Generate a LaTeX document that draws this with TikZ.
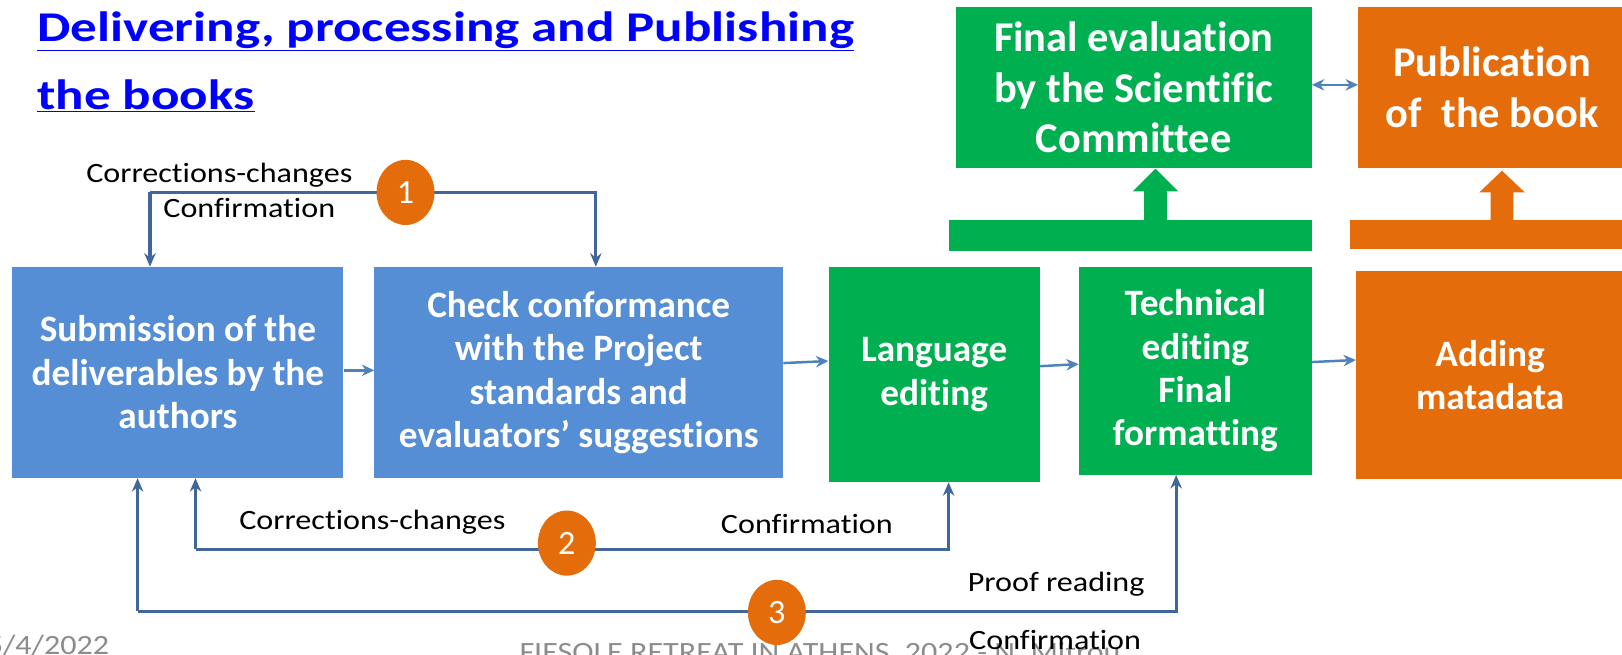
\documentclass[tikz,border=0pt]{standalone}
\usepackage{fontspec}
\setmainfont{Carlito}[Ligatures={NoCommon}]
\newfontfamily\widefont{Carlito}[FakeStretch=1.15, Ligatures={NoCommon}]
\newfontfamily\titlefont{Carlito}[FakeStretch=1.25, Ligatures={NoCommon}]
\usepackage{xcolor}
\usetikzlibrary{arrows.meta,shapes.geometric}
\definecolor{stepblue}{HTML}{558ED5}
\definecolor{stepgreen}{HTML}{00B050}
\definecolor{steporange}{HTML}{E46C0A}
\definecolor{loopline}{HTML}{41679A}
\definecolor{flowline}{HTML}{4F81BD}
\definecolor{titleblue}{HTML}{0000FF}
\definecolor{footgray}{HTML}{8C8C8C}
\tikzset{
  box/.style={inner sep=0pt, align=center, text=white, font=\fontsize{36}{42}\selectfont\bfseries},
  bigbox/.style={font=\fontsize{41}{49}\selectfont\bfseries},
  bluebox/.style={box, fill=stepblue},
  greenbox/.style={box, fill=stepgreen},
  orangebox/.style={box, fill=steporange},
  flow/.style={draw=flowline, line width=2.4pt, -{Stealth[length=12pt,width=11pt]}},
  twoway/.style={draw=flowline, line width=2.4pt, {Stealth[length=12pt,width=11pt]}-{Stealth[length=12pt,width=11pt]}},
  loop/.style={draw=loopline, line width=3pt, line join=miter, -{Stealth[length=13pt,width=11pt]}},
  num/.style={ellipse, fill=steporange, minimum width=56pt, minimum height=63pt, inner sep=0pt, text=white, font=\fontsize{33}{33}\selectfont},
  lab/.style={text=black, inner sep=0pt, font=\widefont\fontsize{27}{27}\selectfont},
  foot/.style={text=footgray, inner sep=0pt, anchor=base west, font=\widefont\fontsize{27}{27}\selectfont},
  ttl/.style={anchor=base west, inner sep=0pt, text=titleblue, font=\titlefont\fontsize{41}{41}\selectfont\bfseries},
}

\begin{document}
\begin{tikzpicture}[x=1pt,y=-1pt]
  \useasboundingbox (0,0) rectangle (1568,633);

  % title
  \node[ttl] (title1) at (36,40) {\underline{Delivering, processing and Publishing}};
  \node[ttl] (title2) at (36,106) {\underline{the books}};

  % the boxes
  \node[bluebox, minimum width=320pt, minimum height=204pt] (sub) at (172,360)
    {Submission of the\\deliverables by the\\authors};
  \node[bluebox, minimum width=395pt, minimum height=204pt] (chk) at (559.5,360)
    {Check conformance\\with the Project\\standards and\\evaluators’ suggestions};
  \node[greenbox, minimum width=204pt, minimum height=208pt] (lang) at (903,362)
    {Language\\editing};
  \node[greenbox, minimum width=225pt, minimum height=201pt] (tech) at (1155.5,358.5)
    {Technical\\editing\\Final\\formatting};
  \node[orangebox, minimum width=259pt, minimum height=201pt] (add) at (1440.5,362.5)
    {Adding\\matadata};
  \node[greenbox, bigbox, minimum width=344pt, minimum height=155pt] (feval) at (1096,84.5)
    {Final evaluation\\by the Scientific\\Committee};
  \node[orangebox, bigbox, minimum width=259pt, minimum height=155pt] (pub) at (1442.5,84.5)
    {Publication\\of\ \ the book};

  % bars and block arrows
  \node[fill=stepgreen, minimum width=351pt, minimum height=30pt, inner sep=0pt] (gbar) at (1092.5,228) {};
  \node[fill=steporange, minimum width=267pt, minimum height=28pt, inner sep=0pt] (obar) at (1438.5,227) {};
  \coordinate (garr) at (1117,213);
  \coordinate (oarr) at (1452,213);
  \fill[stepgreen] (garr) ++(-11,0) -- ++(0,-28) -- ++(-11,0) -- ++(22,-22) -- ++(22,22) -- ++(-11,0) -- ++(0,28) -- cycle;
  \fill[steporange] (oarr) ++(-11,0) -- ++(0,-27) -- ++(-11,0) -- ++(22,-21) -- ++(22,21) -- ++(-11,0) -- ++(0,27) -- cycle;

  % forward arrows
  \draw[flow] (sub.east |- 0,358) -- (chk.west |- 0,358);
  \draw[flow] (chk.east |- 0,351) -- (lang.west |- 0,349);
  \draw[flow] (lang.east |- 0,354) -- (tech.west |- 0,352);
  \draw[flow] (tech.east |- 0,350) -- (add.west |- 0,348);
  \draw[twoway] (feval.east |- 0,82) -- (pub.west |- 0,82);

  % loop 1
  \coordinate (l1a) at (145,186);
  \coordinate (l1b) at (576,186);
  \draw[loop] (l1a) -- (l1b) -- (chk.north -| l1b);
  \draw[loop] (l1a) -- (sub.north -| l1a);
  \node[lab] (cc1) at (212,169) {Corrections-changes};
  \node[lab] (cf1) at (241,201) {Confirmation};
  \node[num] (n1) at (392,186) {1};

  % loop 2
  \coordinate (l2a) at (189,531);
  \coordinate (l2b) at (917,531);
  \draw[loop] (l2a) -- (l2b) -- (lang.south -| l2b);
  \draw[loop] (l2a) -- (sub.south -| l2a);
  \node[lab] (cc2) at (360,505) {Corrections-changes};
  \node[lab] (cf2) at (780,507) {Confirmation};
  \node[num] (n2) at (548,525) {2};

  % loop 3
  \coordinate (l3a) at (133,591);
  \coordinate (l3b) at (1137,591);
  \draw[loop] (l3a) -- (l3b) -- (tech.south -| l3b);
  \draw[loop] (l3a) -- (sub.south -| l3a);
  \node[foot] (date) at (-13,633) {5/4/2022};
  \node[foot] (event) at (502,639) {FIESOLE RETREAT IN ATHENS, 2022 - N. Mitrou};
  \node[lab] (pr3) at (1021,565) {Proof reading};
  \node[lab] (cf3) at (1020,619) {Confirmation};
  \node[num] (n3) at (751,592) {3};
\end{tikzpicture}
\end{document}
